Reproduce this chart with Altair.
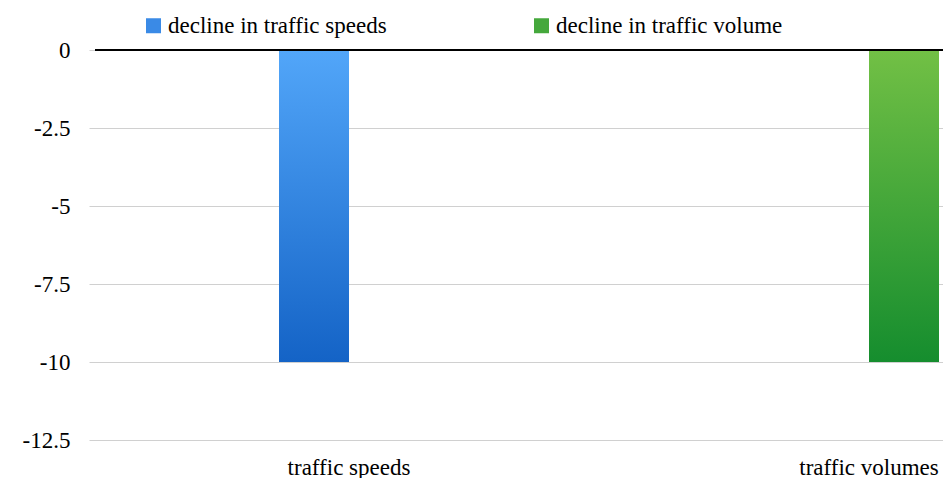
import altair as alt
import pandas as pd

categories = ["traffic speeds", "traffic volumes"]
series = ["decline in traffic speeds", "decline in traffic volume"]
values = [-10, -10]
y_ticks = [0, -2.5, -5, -7.5, -10, -12.5]

legend_colors = ["#3a8ae6", "#45a83c"]
blue_stops = ["#52a6f9", "#1463c6"]
green_stops = ["#72c045", "#158d2e"]
zero_line = [0]

FONT = "Liberation Serif, Times New Roman, Times, serif"
FS = 23

df = pd.DataFrame({"category": categories, "series": series, "value": values})


def grad(stops):
    return alt.Gradient(
        gradient="linear",
        stops=[alt.GradientStop(color=stops[0], offset=0),
               alt.GradientStop(color=stops[1], offset=1)],
        x1=0, x2=0, y1=0, y2=1,
    )


x_enc = alt.X(
    "category:N",
    sort=categories,
    scale=alt.Scale(range=[-6, 1034], paddingInner=0, paddingOuter=0),
    axis=alt.Axis(title=None, labelAngle=0, domain=False, ticks=False, tickSize=0,
                  labelPadding=34, labelBaseline="alphabetic", labelFont=FONT,
                  labelFontSize=FS, labelColor="#000000", grid=False),
)
xo_enc = alt.XOffset("series:N", scale=alt.Scale(domain=series, range=[190, 330],
                                                 paddingInner=0, paddingOuter=0))
y_enc = alt.Y(
    "value:Q",
    scale=alt.Scale(domain=[-12.5, 0], nice=False, zero=False),
    axis=alt.Axis(values=y_ticks, title=None, domain=False, ticks=False, tickSize=0,
                  labelPadding=25, labelFont=FONT, labelFontSize=FS, labelColor="#000000",
                  labelExpr="'' + datum.value", gridColor="#d0d0d0", gridWidth=1),
)

base = alt.Chart(df)

bar_speed = base.transform_filter(alt.datum.series == series[0]).mark_bar(
    fill=grad(blue_stops)).encode(x=x_enc, xOffset=xo_enc, y=y_enc)
bar_volume = base.transform_filter(alt.datum.series == series[1]).mark_bar(
    fill=grad(green_stops)).encode(x=x_enc, xOffset=xo_enc, y=y_enc)

legend_layer = base.mark_square(opacity=0).encode(
    x=x_enc, xOffset=xo_enc, y=y_enc,
    color=alt.Color(
        "series:N",
        scale=alt.Scale(domain=series, range=legend_colors),
        legend=alt.Legend(
            title=None, orient="none", legendX=47, legendY=-36, direction="horizontal",
            symbolType="square", symbolSize=225, symbolStrokeWidth=0, symbolOpacity=1,
            labelFont=FONT, labelFontSize=FS, labelColor="#000000", labelOffset=3,
            columnPadding=143, padding=0, labelLimit=500,
        ),
    ),
)

zero_rule = alt.Chart(pd.DataFrame({"zero": zero_line})).mark_rule(
    color="#000000", strokeWidth=2).encode(y=alt.Y("zero:Q"))

chart = alt.layer(bar_speed, bar_volume, legend_layer, zero_rule).properties(
    width=848, height=390,
    autosize=alt.AutoSizeParams(type="none"),
    padding={"left": 87, "top": 42, "right": 0, "bottom": 38},
    background="white",
).configure_view(stroke=None)

chart.save("out.html", embed_options={"renderer": "svg", "actions": False})
